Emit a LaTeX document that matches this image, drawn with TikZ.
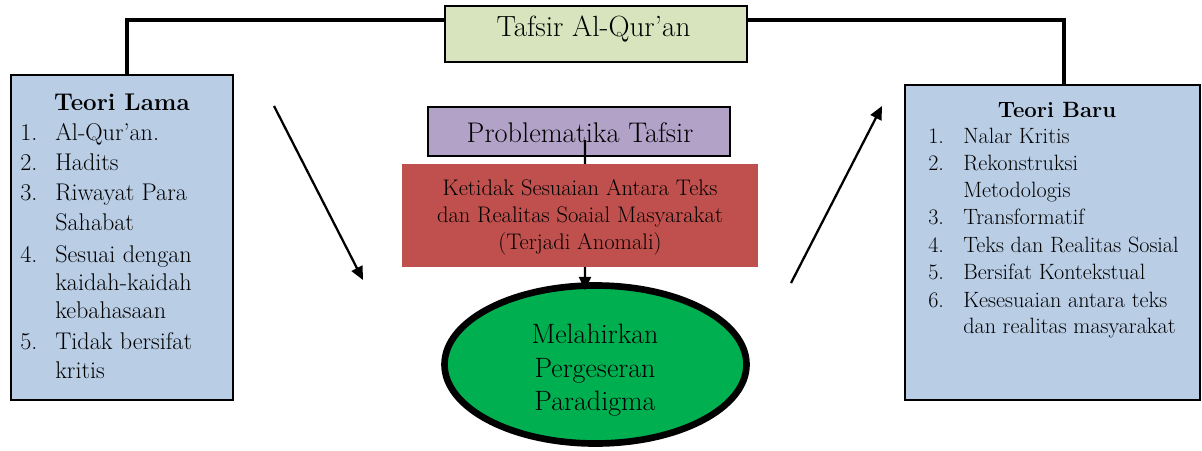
\documentclass[tikz,border=0pt]{standalone}
\usepackage{fontspec}
\usetikzlibrary{arrows.meta,shapes.geometric}
\definecolor{tafsirgreen}{HTML}{D7E4BD}
\definecolor{theoryblue}{HTML}{B9CDE5}
\definecolor{problempurple}{HTML}{B3A2C7}
\definecolor{anomalyred}{HTML}{C0504D}
\definecolor{shiftgreen}{HTML}{00B050}
\begin{document}
\begin{tikzpicture}[x=0.75pt,y=-0.75pt,
  box/.style={draw=black, line width=1.5pt, inner sep=0pt},
  bar/.style={line width=2.6pt},
  arr/.style={line width=1.7pt, -{Triangle[length=10pt,width=9pt]}},
  lt/.style={font=\fontsize{18.1}{21}\selectfont, inner sep=0pt, anchor=base west},
  rt/.style={font=\fontsize{16.6}{20}\selectfont, inner sep=0pt, anchor=base west},
  ct/.style={inner sep=0pt, anchor=base}]
\useasboundingbox (0,0) rectangle (1202,450);

% theory boxes and the central title
\node[box, fill=theoryblue, minimum width=166.5pt, minimum height=243.75pt] (lama) at (122,237.5) {};
\node[box, fill=theoryblue, minimum width=221.25pt, minimum height=236.25pt] (baru) at (1052.5,242.5) {};
\node[box, fill=tafsirgreen, minimum width=226.5pt, minimum height=42pt] (tafsir) at (596,34) {};

% bracket joining the title to both theories
\draw[bar] ([xshift=3.75pt]lama.north) |- ([yshift=10.5pt]tafsir.west);
\draw[bar] ([xshift=8.6pt]baru.north) |- ([yshift=10.5pt]tafsir.east);

% middle column
\node[box, fill=problempurple, minimum width=226.5pt, minimum height=36.75pt] (prob) at (579,131.5) {};
\node[draw=black, line width=5pt, fill=shiftgreen, ellipse, inner sep=0pt,
      minimum width=226.5pt, minimum height=118.5pt] (ell) at (595.5,364.5) {};
\draw[arr] ([xshift=4.5pt,yshift=-6.4pt]prob.center) -- ([xshift=-7.9pt,yshift=-6pt]ell.north);
\node[fill=anomalyred, inner sep=0pt, minimum width=267pt, minimum height=77.25pt] (anom) at (580,215.5) {};

% side arrows
\coordinate (la1) at (274,106);
\coordinate (la2) at (363,280);
\coordinate (ra1) at (791,283);
\coordinate (ra2) at (882,106);
\draw[arr] (la1) -- (la2);
\draw[arr] (ra1) -- (ra2);

% texts of the middle column
\node[ct, font=\fontsize{21.9}{26}\selectfont] (tafsirtxt) at (593.5,36) {Tafsir Al-Qur’an};
\node[ct, font=\fontsize{21.3}{26}\selectfont] (probtxt) at (580,142) {Problematika Tafsir};
\foreach \y/\t [count=\i] in {195/Ketidak Sesuaian Antara Teks,222/dan Realitas Soaial Masyarakat,249/(Terjadi Anomali)}
  \node[ct, font=\fontsize{16.9}{20}\selectfont] (anomtxt\i) at (580,\y) {\t};
\foreach \y/\t [count=\i] in {343/Melahirkan,377/Pergeseran,410/Paradigma}
  \node[ct, font=\fontsize{21}{26}\selectfont] (elltxt\i) at (595,\y) {\t};

% Teori Lama
\node[ct, font=\fontsize{18.1}{21}\selectfont\bfseries] (lamatitle) at (122,110) {Teori Lama};
\foreach \y/\n [count=\i] in {140/1.,170/2.,200/3.,262/4.,349/5.}
  \node[lt] (lamanum\i) at (20,\y) {\n};
\foreach \y/\t [count=\i] in {140/Al-Qur’an.,170/Hadits,200/Riwayat Para,230/Sahabat,262/Sesuai dengan,290/kaidah-kaidah,318/kebahasaan,349/Tidak bersifat,378/kritis}
  \node[lt] (lamaitem\i) at (55,\y) {\t};

% Teori Baru
\node[ct, font=\fontsize{16.6}{20}\selectfont\bfseries] (barutitle) at (1057,117) {Teori Baru};
\foreach \y/\n [count=\i] in {143/1.,170/2.,224/3.,252/4.,279/5.,307/6.}
  \node[rt] (barunum\i) at (928,\y) {\n};
\foreach \y/\t [count=\i] in {143/Nalar Kritis,170/Rekonstruksi,197/Metodologis,224/Transformatif,252/Teks dan Realitas Sosial,279/Bersifat Kontekstual,307/Kesesuaian antara teks,333/dan realitas masyarakat}
  \node[rt] (baruitem\i) at (963,\y) {\t};
\end{tikzpicture}
\end{document}
